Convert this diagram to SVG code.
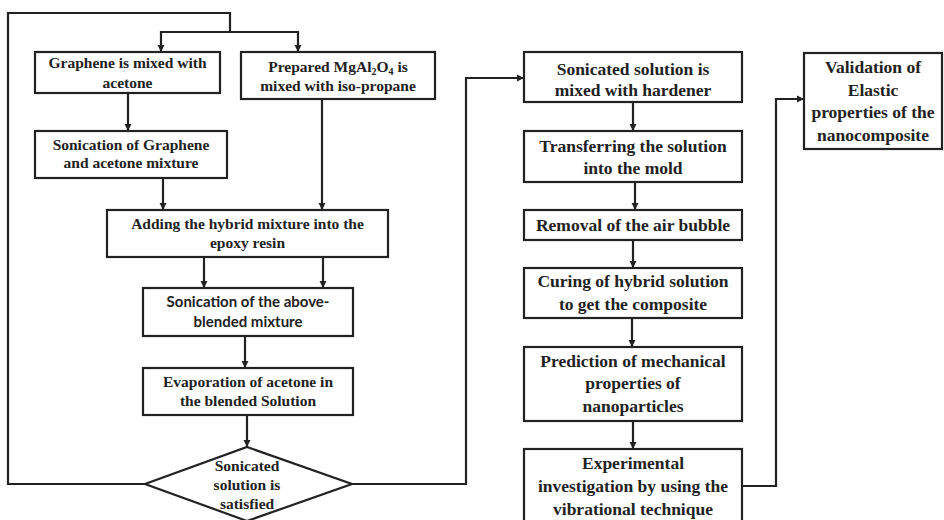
<svg xmlns="http://www.w3.org/2000/svg" width="944" height="520" viewBox="0 0 944 520">
<style>
.box{fill:#fff;stroke:#222;stroke-width:2.2}
.ln{fill:none;stroke:#222;stroke-width:2.2}
.ar{marker-end:url(#ah)}
text{fill:#222;text-anchor:middle;font-weight:bold}
.s{font-family:"Liberation Serif","Times New Roman",serif;font-size:15.5px}
.r{font-family:"Liberation Serif","Times New Roman",serif;font-size:17.5px}
.ss{font-family:Lato,"Liberation Sans",sans-serif;font-size:15px}
</style>
<defs>
<marker id="ah" markerUnits="userSpaceOnUse" markerWidth="8" markerHeight="8" refX="7" refY="4" orient="auto">
<path d="M0,0.5 L7,4 L0,7.5 z" fill="#222"/>
</marker>
</defs>
<rect width="944" height="520" fill="#fff"/>
<g id="connectors">
<path class="ln" d="M145,484 H8 V13 H230 V32"/>
<path class="ln ar" d="M230,32 H161 V52"/>
<path class="ln ar" d="M230,32 H298 V52"/>
<path class="ln ar" d="M128,93 V131"/>
<path class="ln ar" d="M163,178 V210"/>
<path class="ln ar" d="M322,99 V210"/>
<path class="ln ar" d="M204,257 V288"/>
<path class="ln ar" d="M323,257 V288"/>
<path class="ln ar" d="M245,336 V368"/>
<path class="ln ar" d="M247,415 V447"/>
<path class="ln ar" d="M352,484 H466 V78 H524"/>
<path class="ln ar" d="M633,102 V131"/>
<path class="ln ar" d="M635,182 V210"/>
<path class="ln ar" d="M633,240 V268"/>
<path class="ln ar" d="M632,318 V347"/>
<path class="ln ar" d="M633,421 V449"/>
<path class="ln ar" d="M742,486 H776 V99 H804"/>
</g>
<g id="n1"><rect class="box" x="35" y="52" width="185" height="41"/>
<text class="s" x="127.5" y="68">Graphene is mixed with</text>
<text class="s" x="127.5" y="88">acetone</text></g>
<g id="n2"><rect class="box" x="241" y="52" width="194" height="47"/>
<text class="s" x="338" y="72">Prepared MgAl<tspan font-size="10" dy="3">2</tspan><tspan dy="-3">O</tspan><tspan font-size="10" dy="3">4</tspan><tspan dy="-3"> is</tspan></text>
<text class="s" x="338" y="91">mixed with iso-propane</text></g>
<g id="n3"><rect class="box" x="35" y="131" width="192" height="47"/>
<text class="s" x="131" y="150">Sonication of Graphene</text>
<text class="s" x="131" y="168">and acetone mixture</text></g>
<g id="n4"><rect class="box" x="107" y="210" width="281" height="47"/>
<text class="s" x="247.5" y="229">Adding the hybrid mixture into the</text>
<text class="s" x="247.5" y="248">epoxy resin</text></g>
<g id="n5"><rect class="box" x="143" y="288" width="210" height="48"/>
<text class="ss" x="248" y="307">Sonication of the above-</text>
<text class="ss" x="248" y="327">blended mixture</text></g>
<g id="n6"><rect class="box" x="143" y="368" width="210" height="47"/>
<text class="s" x="248" y="387">Evaporation of acetone in</text>
<text class="s" x="248" y="406">the blended Solution</text></g>
<g id="n7"><path class="box" d="M247,447 L352,484 L247,521 L145,484 Z"/>
<text class="s" x="247" y="471">Sonicated</text>
<text class="s" x="247" y="490">solution is</text>
<text class="s" x="247" y="509">satisfied</text></g>
<g id="n8"><rect class="box" x="524" y="52" width="218" height="50"/>
<text class="r" x="633" y="75">Sonicated solution is</text>
<text class="r" x="633" y="96">mixed with hardener</text></g>
<g id="n9"><rect class="box" x="524" y="131" width="218" height="51"/>
<text class="r" x="633" y="152">Transferring the solution</text>
<text class="r" x="633" y="174">into the mold</text></g>
<g id="n10"><rect class="box" x="524" y="210" width="218" height="30"/>
<text class="r" x="633" y="231">Removal of the air bubble</text></g>
<g id="n11"><rect class="box" x="524" y="268" width="218" height="50"/>
<text class="r" x="633" y="287">Curing of hybrid solution</text>
<text class="r" x="633" y="310">to get the composite</text></g>
<g id="n12"><rect class="box" x="524" y="347" width="218" height="74"/>
<text class="r" x="633" y="367">Prediction of mechanical</text>
<text class="r" x="633" y="389">properties of</text>
<text class="r" x="633" y="412">nanoparticles</text></g>
<g id="n13"><rect class="box" x="524" y="449" width="218" height="76"/>
<text class="r" x="633" y="469">Experimental</text>
<text class="r" x="633" y="492">investigation by using the</text>
<text class="r" x="633" y="515">vibrational technique</text></g>
<g id="n14"><rect class="box" x="804" y="53" width="138" height="96"/>
<text class="r" x="873" y="73">Validation of</text>
<text class="r" x="873" y="96">Elastic</text>
<text class="r" x="873" y="118">properties of the</text>
<text class="r" x="873" y="141">nanocomposite</text></g>
</svg>
